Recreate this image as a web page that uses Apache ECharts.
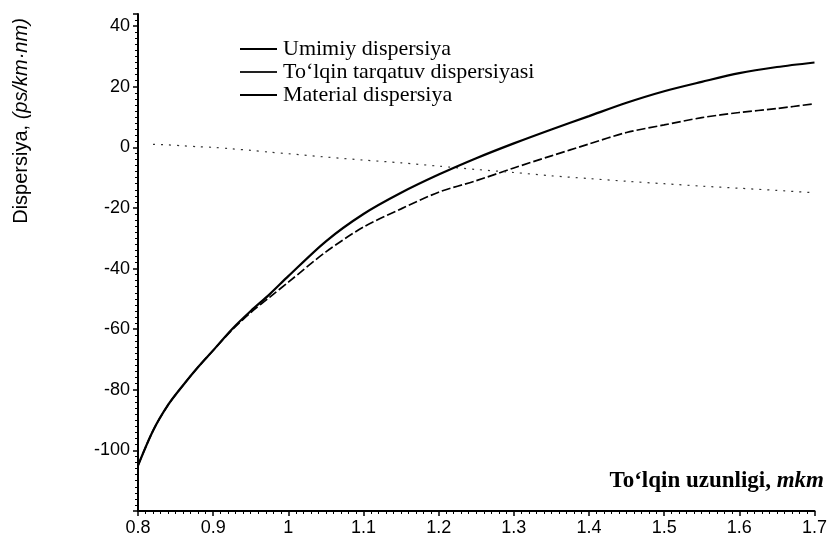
<!DOCTYPE html>
<html>
<head>
<meta charset="utf-8">
<script src="https://cdn.jsdelivr.net/npm/echarts@6/dist/echarts.min.js"></script>
<style>
html,body{margin:0;padding:0;background:#fff;}
#chart{width:830px;height:546px;}
</style>
</head>
<body>
<div id="chart"></div>
<script>
// Wavelength, µm
const wavelength = [0.80, 0.82, 0.84, 0.86, 0.88, 0.90, 0.925, 0.95, 0.975, 1.00, 1.05, 1.10, 1.15, 1.20, 1.25, 1.30, 1.35, 1.40, 1.45, 1.50, 1.55, 1.60, 1.65, 1.70];
// Total dispersion (Umimiy dispersiya)
const totalDisp = [-105, -93.5, -85, -78.5, -72.5, -67, -60.3, -54.5, -49.5, -44.5, -34.5, -26.3, -20.3, -14.8, -11, -6.8, -2.8, 1.1, 4.9, 7.4, 9.8, 11.5, 12.8, 14.4];
// Waveguide dispersion (To'lqin tarqatuv dispersiyasi)
const waveguideDisp = [null, 1.0, 0.8, 0.5, 0.2, 0, -0.5, -1.0, -1.6, -2.1, -3.2, -4.2, -5.1, -6.2, -7.3, -8.3, -9.4, -10.3, -11.2, -12.0, -12.8, -13.5, -14.2, -15.0];
// Material dispersion (Material dispersiya)
const materialDisp = [-105, -93.5, -85, -78.5, -72.5, -67, -60, -54, -48.5, -42.5, -31, -22, -15, -9, -3.6, 1.3, 5.9, 10.3, 14.7, 18.5, 21.6, 24.5, 26.5, 28];

const seriesNames = ['Umimiy dispersiya', 'To‘lqin tarqatuv dispersiyasi', 'Material dispersiya'];
const xTickLabels = ['0.8', '0.9', '1', '1.1', '1.2', '1.3', '1.4', '1.5', '1.6', '1.7'];
const yTickLabels = ['-100', '-80', '-60', '-40', '-20', '0', '20', '40'];
const yAxisTitle = 'Dispersiya, ';
const yAxisUnit = '(ps/km·nm)';
const xAxisTitle = 'To‘lqin uzunligi, ';
const xAxisUnit = 'mkm';

function pairs(ys) { return wavelength.map((x, i) => [x, ys[i]]); }

const chart = echarts.init(document.getElementById('chart'));
const axisCommon = {
  axisLine: { show: true, onZero: false, lineStyle: { color: '#000', width: 2 } },
  axisTick: { show: true, length: 5, lineStyle: { color: '#000', width: 1.5 } },
  minorTick: { show: true, splitNumber: 10, length: 3, lineStyle: { color: '#000', width: 1 } },
  splitLine: { show: false },
  minorSplitLine: { show: false },
  axisLabel: { color: '#000', fontFamily: 'Liberation Sans', fontSize: 18 }
};

chart.setOption({
  animation: false,
  backgroundColor: '#fff',
  grid: { left: 138, right: 15, top: 14, bottom: 35 },
  xAxis: Object.assign({}, axisCommon, {
    type: 'value', min: 0.8, max: 1.7, interval: 0.1,
    axisLabel: Object.assign({}, axisCommon.axisLabel, {
      margin: 8,
      formatter: function (v) {
        const idx = Math.round((v - 0.8) / 0.1);
        return xTickLabels[idx] !== undefined ? xTickLabels[idx] : '';
      }
    })
  }),
  yAxis: Object.assign({}, axisCommon, {
    type: 'value', min: -120, max: 44, interval: 20,
    axisLabel: Object.assign({}, axisCommon.axisLabel, {
      margin: 8,
      formatter: function (v) {
        const s = String(Math.round(v));
        return yTickLabels.indexOf(s) >= 0 ? s : '';
      }
    })
  }),
  legend: {
    orient: 'vertical', left: 240, top: 38, padding: 0,
    itemWidth: 37, itemHeight: 2, itemGap: 1,
    icon: 'rect',
    textStyle: { fontFamily: 'Liberation Serif', fontSize: 22, color: '#000', lineHeight: 22, padding: [0, 0, 0, 1] },
    data: [
      { name: seriesNames[0], icon: 'rect', itemStyle: { color: '#000' } },
      { name: seriesNames[1], icon: 'rect', itemStyle: { color: '#222' } },
      { name: seriesNames[2], icon: 'rect', itemStyle: { color: '#000' } }
    ]
  },
  series: [
    {
      name: seriesNames[0], type: 'line', data: pairs(totalDisp), smooth: 0.3,
      symbol: 'none', lineStyle: { color: '#000', width: 1.7, type: [9, 3] }, itemStyle: { color: '#000' }
    },
    {
      name: seriesNames[1], type: 'line', data: pairs(waveguideDisp), smooth: 0.3,
      symbol: 'none', connectNulls: false,
      lineStyle: { color: '#333', width: 1.2, type: [2, 6] }, itemStyle: { color: '#333' }
    },
    {
      name: seriesNames[2], type: 'line', data: pairs(materialDisp), smooth: 0.3,
      symbol: 'none', lineStyle: { color: '#000', width: 2.2, type: 'solid' }, itemStyle: { color: '#000' }
    }
  ],
  graphic: [
    {
      type: 'text', x: 21, y: 121, rotation: Math.PI / 2,
      style: {
        text: yAxisTitle + '{i|' + yAxisUnit + '}',
        fontFamily: 'Liberation Sans', fontSize: 20, fill: '#000',
        align: 'center', verticalAlign: 'middle',
        rich: { i: { fontFamily: 'Liberation Sans', fontStyle: 'italic', fontSize: 20, fill: '#000' } }
      }
    },
    {
      type: 'text', x: 824, y: 481,
      style: {
        text: xAxisTitle + '{i|' + xAxisUnit + '}',
        fontFamily: 'Liberation Serif', fontSize: 23, fontWeight: 'bold', fill: '#000',
        align: 'right', verticalAlign: 'middle',
        rich: { i: { fontFamily: 'Liberation Serif', fontStyle: 'italic', fontWeight: 'bold', fontSize: 23, fill: '#000' } }
      }
    }
  ]
});
</script>
</body>
</html>
